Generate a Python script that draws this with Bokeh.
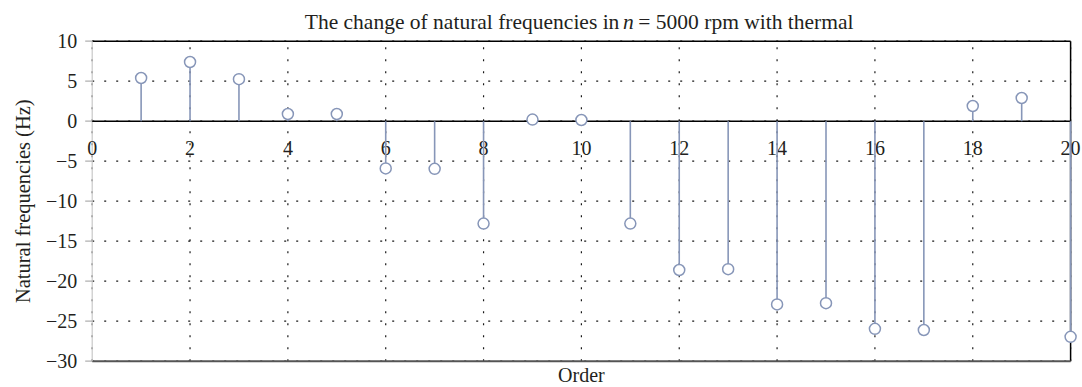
import math
from bokeh.plotting import figure
from bokeh.models import Label, Range1d
from bokeh.core.properties import value
from bokeh.embed import file_html
from bokeh.resources import INLINE

orders = list(range(1, 21))
values = [5.4, 7.4, 5.25, 0.9, 0.9, -5.9, -5.95, -12.8, 0.2, 0.15,
          -12.8, -18.6, -18.5, -22.9, -22.75, -25.95, -26.1, 1.9, 2.9, -26.95]
x_ticks = [0, 2, 4, 6, 8, 10, 12, 14, 16, 18, 20]
y_ticks = [-30, -25, -20, -15, -10, -5, 0, 5, 10]
title_parts = ["The change of natural frequencies in", "n", "= 5000 rpm with thermal"]
x_label = "Order"
y_label = "Natural frequencies (Hz)"

FONT = "Liberation Serif"
STEM = "#8796b8"
TXT = "#231f20"
FS = "20px"
FS_T = "21.5px"

# canvas-wide frame: axes drawn inside it
PX_X = 48.92   # px per x unit
PX_Y = 8.0     # px per y unit
X0_PX, Y0_PX = 91.7, 120.7
W, H = 1082, 387
x_range = Range1d(-X0_PX / PX_X, (W - X0_PX) / PX_X)
y_range = Range1d((Y0_PX - H) / PX_Y, Y0_PX / PX_Y)

p = figure(width=W, height=H, output_backend="svg", toolbar_location=None,
           x_range=x_range, y_range=y_range, min_border=0)
p.axis.visible = False
p.grid.visible = False
p.outline_line_color = None
p.background_fill_color = "white"

xmin, xmax = min(x_ticks), max(x_ticks)
ymin, ymax = min(y_ticks), max(y_ticks)

# dotted grid
p.segment(x0=x_ticks, y0=[ymin] * len(x_ticks), x1=x_ticks, y1=[ymax] * len(x_ticks),
          line_color="black", line_dash="2 10", line_width=1.2, line_alpha=0.9)
p.segment(x0=[xmin] * len(y_ticks), y0=y_ticks, x1=[xmax] * len(y_ticks), y1=y_ticks,
          line_color="black", line_dash="2 10", line_width=1.2, line_alpha=0.9)

# frame borders
p.segment(x0=[xmin], y0=[ymax], x1=[xmax], y1=[ymax], line_color="black", line_width=1.5)
p.segment(x0=[xmax], y0=[ymin], x1=[xmax], y1=[ymax], line_color="black", line_width=1.5)
p.segment(x0=[xmin], y0=[ymin], x1=[xmax], y1=[ymin], line_color="#555555", line_width=2)
p.segment(x0=[xmin], y0=[ymin], x1=[xmin], y1=[ymax], line_color="#c8c8c8", line_width=1.2)

# y ticks (outward) and labels
p.ray(x=[xmin] * len(y_ticks), y=y_ticks, length=7, length_units="screen", angle=math.pi,
      line_color="#b0b0b0", line_width=1.2)
p.text(x=[xmin] * len(y_ticks), y=y_ticks,
       text=[str(t).replace("-", "\u2212") for t in y_ticks],
       x_offset=-15, text_align="right", text_baseline="middle",
       text_font=value(FONT), text_font_size=FS, text_color=TXT)

# zero axis line with x tick labels
p.segment(x0=[xmin], y0=[0], x1=[xmax], y1=[0], line_color="black", line_width=1.5)
p.text(x=x_ticks, y=[0] * len(x_ticks), text=[str(t) for t in x_ticks],
       y_offset=20, text_align="center", text_baseline="top",
       text_font=value(FONT), text_font_size=FS, text_color=TXT)

# stems and markers
p.segment(x0=orders, y0=[0] * len(orders), x1=orders, y1=values, line_color=STEM, line_width=1.6)
p.scatter(x=orders, y=values, size=11, marker="circle", fill_color="white",
          line_color=STEM, line_width=1.5)

# axis titles
xc = (xmin + xmax) / 2
yc = (ymin + ymax) / 2
p.add_layout(Label(x=xc, y=ymin, y_offset=-25, text=x_label, text_align="center",
                   text_baseline="bottom", text_font=FONT, text_font_size=FS, text_color=TXT))
p.add_layout(Label(x=xmin, y=yc, x_offset=-69, text=y_label, angle=math.pi / 2,
                   text_align="center", text_baseline="middle",
                   text_font=FONT, text_font_size="20.5px", text_color=TXT))

# title with italic n
common = dict(y=ymax, y_offset=31, text_font=FONT, text_font_size=FS_T,
              text_baseline="top", text_color=TXT)
n_x = 10.96
p.add_layout(Label(x=n_x, x_offset=-9, text=title_parts[0], text_align="right", **common))
p.add_layout(Label(x=n_x, text=title_parts[1], text_align="center",
                   text_font_style="italic", **common))
p.add_layout(Label(x=n_x, x_offset=10, text=title_parts[2], text_align="left", **common))

open("out.html", "w").write(file_html(p, INLINE))
